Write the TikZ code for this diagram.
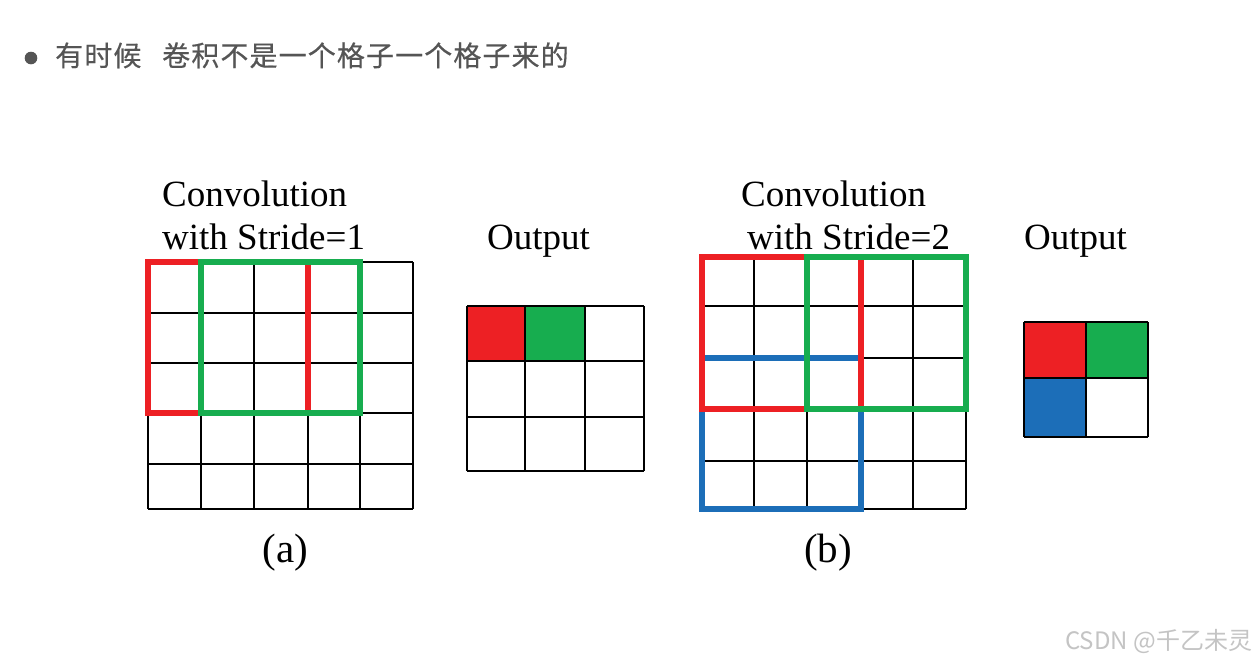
\documentclass[tikz,border=0pt]{standalone}
\usepackage{fontspec}
\setmainfont{Liberation Serif}
\newfontfamily\cjk{Noto Sans CJK SC}
\definecolor{kred}{HTML}{ED2024}
\definecolor{kgreen}{HTML}{17AD4F}
\definecolor{kblue}{HTML}{1C6EB8}
\definecolor{titlegray}{HTML}{555555}
\definecolor{wmgray}{HTML}{C4C4C4}
\tikzset{
  gridline/.style={line width=2pt, black},
  kbox/.style={line width=5.5pt, miter limit=10},
  lbl/.style={inner sep=0pt, anchor=base west, font=\fontsize{37}{44}\selectfont},
  sub/.style={inner sep=0pt, anchor=base, font=\fontsize{41}{48}\selectfont},
  ttl/.style={inner sep=0pt, anchor=base west, text=titlegray, font=\cjk\addfontfeature{LetterSpace=4,FakeBold=0.4}\fontsize{28}{32}\selectfont},
}
\begin{document}
\begin{tikzpicture}[x=1pt,y=-1pt]
\useasboundingbox (0,0) rectangle (1257,665);
\fill[white] (0,0) rectangle (1257,665);
% title
\fill[titlegray] (31,58) circle (6.3);
\node[ttl] (t1) at (55,66) {有时候};
\node[ttl] (t2) at (162,66) {卷积不是一个格子一个格子来的};
% labels
\node[lbl] (conva) at (162,206) {Convolution};
\node[lbl] (stra) at (162,249) {with Stride=1};
\node[lbl] (outa) at (487,249) {Output};
\node[lbl] (convb) at (741,206) {Convolution};
\node[lbl] (strb) at (747,249) {with Stride=2};
\node[lbl] (outb) at (1024,249) {Output};
\node[sub] (suba) at (285.5,562) {(a)};
\node[sub] (subb) at (828,562) {(b)};
% grid (a)
\foreach \x in {148,201,254,308,360,413} \draw[gridline] (\x,262) -- (\x,509);
\foreach \y in {262,313,363,413,464,509} \draw[gridline] (148,\y) -- (413,\y);
\draw[kbox, kred] (148,262) rectangle (308,413);
\draw[kbox, kgreen] (201,262) rectangle (360,413);
% output (a)
\fill[kred] (467,306) rectangle (525,361);
\fill[kgreen] (525,306) rectangle (585,361);
\foreach \x in {467,525,585,644} \draw[gridline, line width=2.3pt] (\x,306) -- (\x,471);
\foreach \y in {306,361,417,471} \draw[gridline, line width=2.3pt] (467,\y) -- (644,\y);
% grid (b)
\foreach \x in {702,754,807,861,913,966} \draw[gridline] (\x,257) -- (\x,509);
\foreach \y in {257,306,358,409,461,509} \draw[gridline] (702,\y) -- (966,\y);
\draw[kbox, kblue] (702,358) rectangle (861,509);
\draw[kbox, kred] (702,257) rectangle (861,409);
\draw[kbox, kgreen] (807,257) rectangle (966,409);
% output (b)
\fill[kred] (1024,322) rectangle (1086,378);
\fill[kgreen] (1086,322) rectangle (1148,378);
\fill[kblue] (1024,378) rectangle (1086,437);
\foreach \x in {1024,1086,1148} \draw[gridline, line width=2.6pt] (\x,322) -- (\x,437);
\foreach \y in {322,378,437} \draw[gridline, line width=2.6pt] (1024,\y) -- (1148,\y);
% watermark
\node[inner sep=0pt, anchor=base west, text=wmgray, font=\cjk\fontsize{24}{28}\selectfont] (wm) at (1065,649) {CSDN @千乙未灵};
\end{tikzpicture}
\end{document}
